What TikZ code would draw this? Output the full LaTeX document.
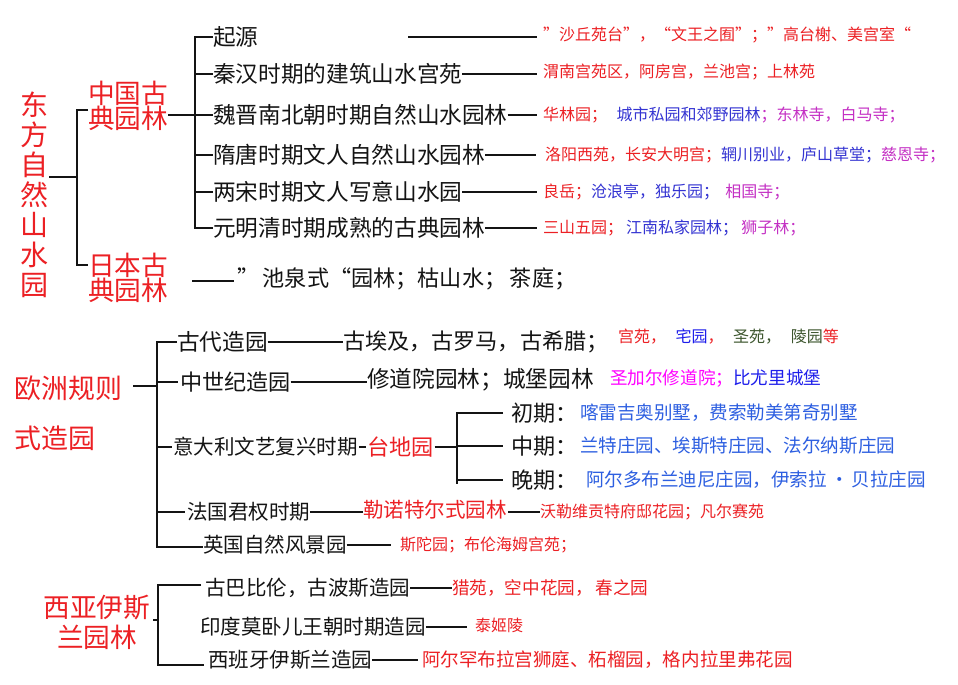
\documentclass[tikz,border=0pt]{standalone}
\usepackage{fontspec}
\setmainfont{Noto Sans CJK SC}
\definecolor{cred}{RGB}{236,32,36}
\definecolor{cblue}{RGB}{52,52,210}
\definecolor{cpurp}{RGB}{196,48,196}
\definecolor{cmag}{RGB}{255,0,255}
\definecolor{cblueb}{RGB}{30,30,235}
\definecolor{croyal}{RGB}{45,95,225}
\definecolor{cgreen}{RGB}{60,85,45}
\definecolor{cblack}{RGB}{20,20,20}
\newcommand\szA{\fontsize{12pt}{14pt}\selectfont}
\newcommand\szB{\fontsize{13.2pt}{15pt}\selectfont}
\newcommand\szC{\fontsize{13.9pt}{15pt}\selectfont}
\newcommand\szD{\fontsize{15.4pt}{17pt}\selectfont}
\newcommand\szE{\fontsize{16.6pt}{18pt}\selectfont}
\newcommand\szF{\fontsize{17pt}{18pt}\selectfont}
\newcommand\szG{\fontsize{20pt}{19pt}\selectfont}
\newcommand\szH{\fontsize{21pt}{22.5pt}\selectfont}
\newcommand\szI{\fontsize{20.2pt}{37.5pt}\selectfont}
\newcommand\szJ{\fontsize{20pt}{22.5pt}\selectfont}
\tikzset{
  txt/.style={anchor=west, inner sep=0pt, outer sep=0pt, text=cblack},
  br/.style={line width=2pt, line join=miter, draw=cblack},
  dl/.style={line width=1.1pt, draw=cblack},
}
\begin{document}
\begin{tikzpicture}[x=0.75pt,y=-0.75pt]
\useasboundingbox (0,0) rectangle (958,685);
\fill[white] (0,0) rectangle (958,685);

% ===== Section 1 =====
\node[txt, anchor=center, align=center, text=cred, font=\szH] (dong) at (35,195) {东\\方\\自\\然\\山\\水\\园};
\node[txt, align=left, text=cred, font=\szG] (zg) at (88,106) {中国古\\典园林};
\node[txt, align=left, text=cred, font=\szG] (rb) at (88,278) {日本古\\典园林};
\coordinate (d1) at (77,177);
\draw[br] (dong.east |- d1) -- (d1);
\draw[br] (zg.west |- 0,110) -| (d1) |- (rb.west |- 0,265);

\node[txt, font=\szF] (r1) at (213,37) {起源};
\node[txt, font=\szF] (r2) at (213,74) {秦汉时期的建筑山水宫苑};
\node[txt, font=\szF] (r3) at (213,115) {魏晋南北朝时期自然山水园林};
\node[txt, font=\szF] (r4) at (213,155) {隋唐时期文人自然山水园林};
\node[txt, font=\szF] (r5) at (213,192) {两宋时期文人写意山水园};
\node[txt, font=\szF] (r6) at (213,228) {元明清时期成熟的古典园林};
\coordinate (d2) at (195,115);
\draw[br] (zg.east |- d2) -- (d2);
\draw[br] (r1.west) -| (d2) |- (r6.west);
\foreach \r in {r2,r3,r4,r5} \draw[br] (d2 |- \r.west) -- (\r.west);

\node[txt, font=\szA, text=cred] (c1) at (543,35) {”沙丘苑台”，“文王之囿”；”高台榭、美宫室“};
\node[txt, font=\szA, text=cred] (c2) at (543,72) {渭南宫苑区，阿房宫，兰池宫；上林苑};
\node[txt, font=\szA] (c3) at (543,115) {\color{cred}华林园；\hspace{0.6em}\color{cblue}城市私园和郊野园林\color{cpurp}；东林寺，白马寺；};
\node[txt, font=\szA] (c4) at (545,155) {\color{cred}洛阳西苑，长安大明宫；\color{cblue}辋川别业，庐山草堂；\color{cpurp}慈恩寺；};
\node[txt, font=\szA] (c5) at (543,192) {\color{cred}良岳；\color{cblue}沧浪亭，独乐园；\hspace{0.4em}\color{cpurp}相国寺；};
\node[txt, font=\szA] (c6) at (543,228) {\color{cred}三山五园；\hspace{0.2em}\color{cblue}江南私家园林；\hspace{0.2em}\color{cpurp}狮子林；};
\coordinate (l1) at (408,37);
\draw[dl, shorten >=4.5pt] (l1) -- (c1.west |- l1);
\draw[dl, shorten >=4.5pt] (r2.east) -- (c2.west |- r2.east);
\draw[dl, shorten >=4.5pt] (r3.east) -- (c3.west);
\draw[dl, shorten >=7pt] (r4.east) -- (c4.west);
\draw[dl, shorten >=4.5pt] (r5.east) -- (c5.west);
\draw[dl, shorten >=4.5pt] (r6.east) -- (c6.west);

\node[txt, font=\szE] (jp) at (237,279) {”\,池泉式“园林；枯山水；\,茶庭；};
\coordinate (l2) at (192,281);
\draw[dl, shorten >=2pt] (l2) -- (jp.west |- l2);

% ===== Section 2 =====
\node[txt, align=left, text=cred, font=\szI] (eu) at (15,413) {欧洲规则\\式造园};
\coordinate (d3) at (157,386);
\coordinate (e0) at (133,386);
\draw[br] (e0) -- (d3);

\node[txt, font=\szF] (a1) at (177,342) {古代造园};
\node[txt, font=\szE] (a1b) at (343,342) {古埃及，古罗马，古希腊；};
\node[txt, font=\szA] (a1c) at (618,337) {\color{cred}宫苑，\hspace{0.6em}\color{cblueb}宅园\color{cred}，\hspace{0.6em}\color{cgreen}圣苑，\hspace{0.6em}陵园\color{cred}等};
\node[txt, font=\szE] (a2) at (180,382) {中世纪造园};
\node[txt, font=\szF] (a2b) at (367,380) {修道院园林；城堡园林};
\node[txt, font=\szB] (a2c) at (610,378) {\color{cmag}圣加尔修道院；\color{cblueb}比尤里城堡};
\node[txt, font=\szD] (a3) at (173,447) {意大利文艺复兴时期};
\node[txt, font=\szE, text=cred] (a3b) at (367,447) {台地园};
\node[txt, font=\szD] (a4) at (187,512) {法国君权时期};
\node[txt, font=\szD, text=cred] (a4b) at (363,510) {勒诺特尔式园林};
\node[txt, font=\szA, text=cred] (a4c) at (540,512) {沃勒维贡特府邸花园；凡尔赛苑};
\node[txt, font=\szD] (a5) at (203,545) {英国自然风景园};
\node[txt, font=\szA, text=cred] (a5b) at (400,545) {斯陀园；布伦海姆宫苑；};

\draw[br] (a1.west) -| (d3) |- (157,547) -- (a5.west |- 0,547);
\draw[br] (d3 |- a2.west) -- ([xshift=-1.5pt]a2.west);
\draw[br] (d3 |- a3.west) -- ([xshift=-1pt]a3.west);
\draw[br] (d3 |- a4.west) -- ([xshift=-1.5pt]a4.west);
\draw[dl, line width=1.5pt] (a1.east) -- (a1b.west);
\draw[dl, line width=1.3pt] (a2.east) -- (a2b.west |- a2.east);
\draw[br, line width=2.2pt, shorten <=1pt, shorten >=1pt] (a3.east) -- (a3b.west);
\draw[br, line width=2.2pt] (a4.east) -- (a4b.west |- a4.east);
\draw[dl, shorten <=1pt] (a4b.east |- a4c.west) -- (a4c.west);
\draw[dl, shorten >=7pt] (a5.east) -- (a5b.west);

\coordinate (d4) at (457,447);
\node[txt, font=\szE] (p1) at (511,413) {初期：};
\node[txt, font=\szE] (p2) at (511,446) {中期：};
\node[txt, font=\szE] (p3) at (511,480) {晚期：};
\node[txt, font=\szC, text=croyal] (q1) at (580,413) {喀雷吉奥别墅，费索勒美第奇别墅};
\node[txt, font=\szC, text=croyal] (q2) at (580,446) {兰特庄园、埃斯特庄园、法尔纳斯庄园};
\node[txt, font=\szC, text=croyal] (q3) at (586,480) {阿尔多布兰迪尼庄园，伊索拉\,·\,贝拉庄园};
\draw[br, shorten <=1pt] (a3b.east) -- (d4);
\draw[br] (p1.west) ++(-8,0) coordinate (p1e) -| (d4) |- (457,484) (d4 |- p3.west) -- ([xshift=-6pt]p3.west);
\draw[br] (d4 |- p1.west) -- (p1e);
\draw[br] (d4 |- p2.west) -- ([xshift=-6pt]p2.west);

% ===== Section 3 =====
\node[txt, anchor=center, align=center, text=cred, font=\szJ] (wa) at (97,622) {西亚伊斯\\兰园林};
\coordinate (d5) at (158,620);
\draw[br] ([xshift=2pt]wa.east |- d5) -- (d5);
\node[txt, font=\szD] (b1) at (205,588) {古巴比伦，古波斯造园};
\node[txt, font=\szB, text=cred] (b1b) at (452,588) {猎苑，空中花园，\,春之园};
\node[txt, font=\szD] (b2) at (200,627) {印度莫卧儿王朝时期造园};
\node[txt, font=\szA, text=cred] (b2b) at (475,625) {泰姬陵};
\node[txt, font=\szD] (b3) at (208,660) {西班牙伊斯兰造园};
\node[txt, font=\szC, text=cred] (b3b) at (422,660) {阿尔罕布拉宫狮庭、柘榴园，格内拉里弗花园};
\draw[br] ([xshift=-3pt]b1.west |- 0,585) -| (d5) |- ([xshift=-3pt]b3.west |- 0,665);
\draw[br, line width=1.5pt] (b1.east) -- (b1b.west);
\draw[br, line width=1.5pt, shorten >=6pt] (b2.east) -- (b2b.west |- b2.east);
\draw[dl, shorten >=3pt] (b3.east) -- (b3b.west);
\end{tikzpicture}
\end{document}
